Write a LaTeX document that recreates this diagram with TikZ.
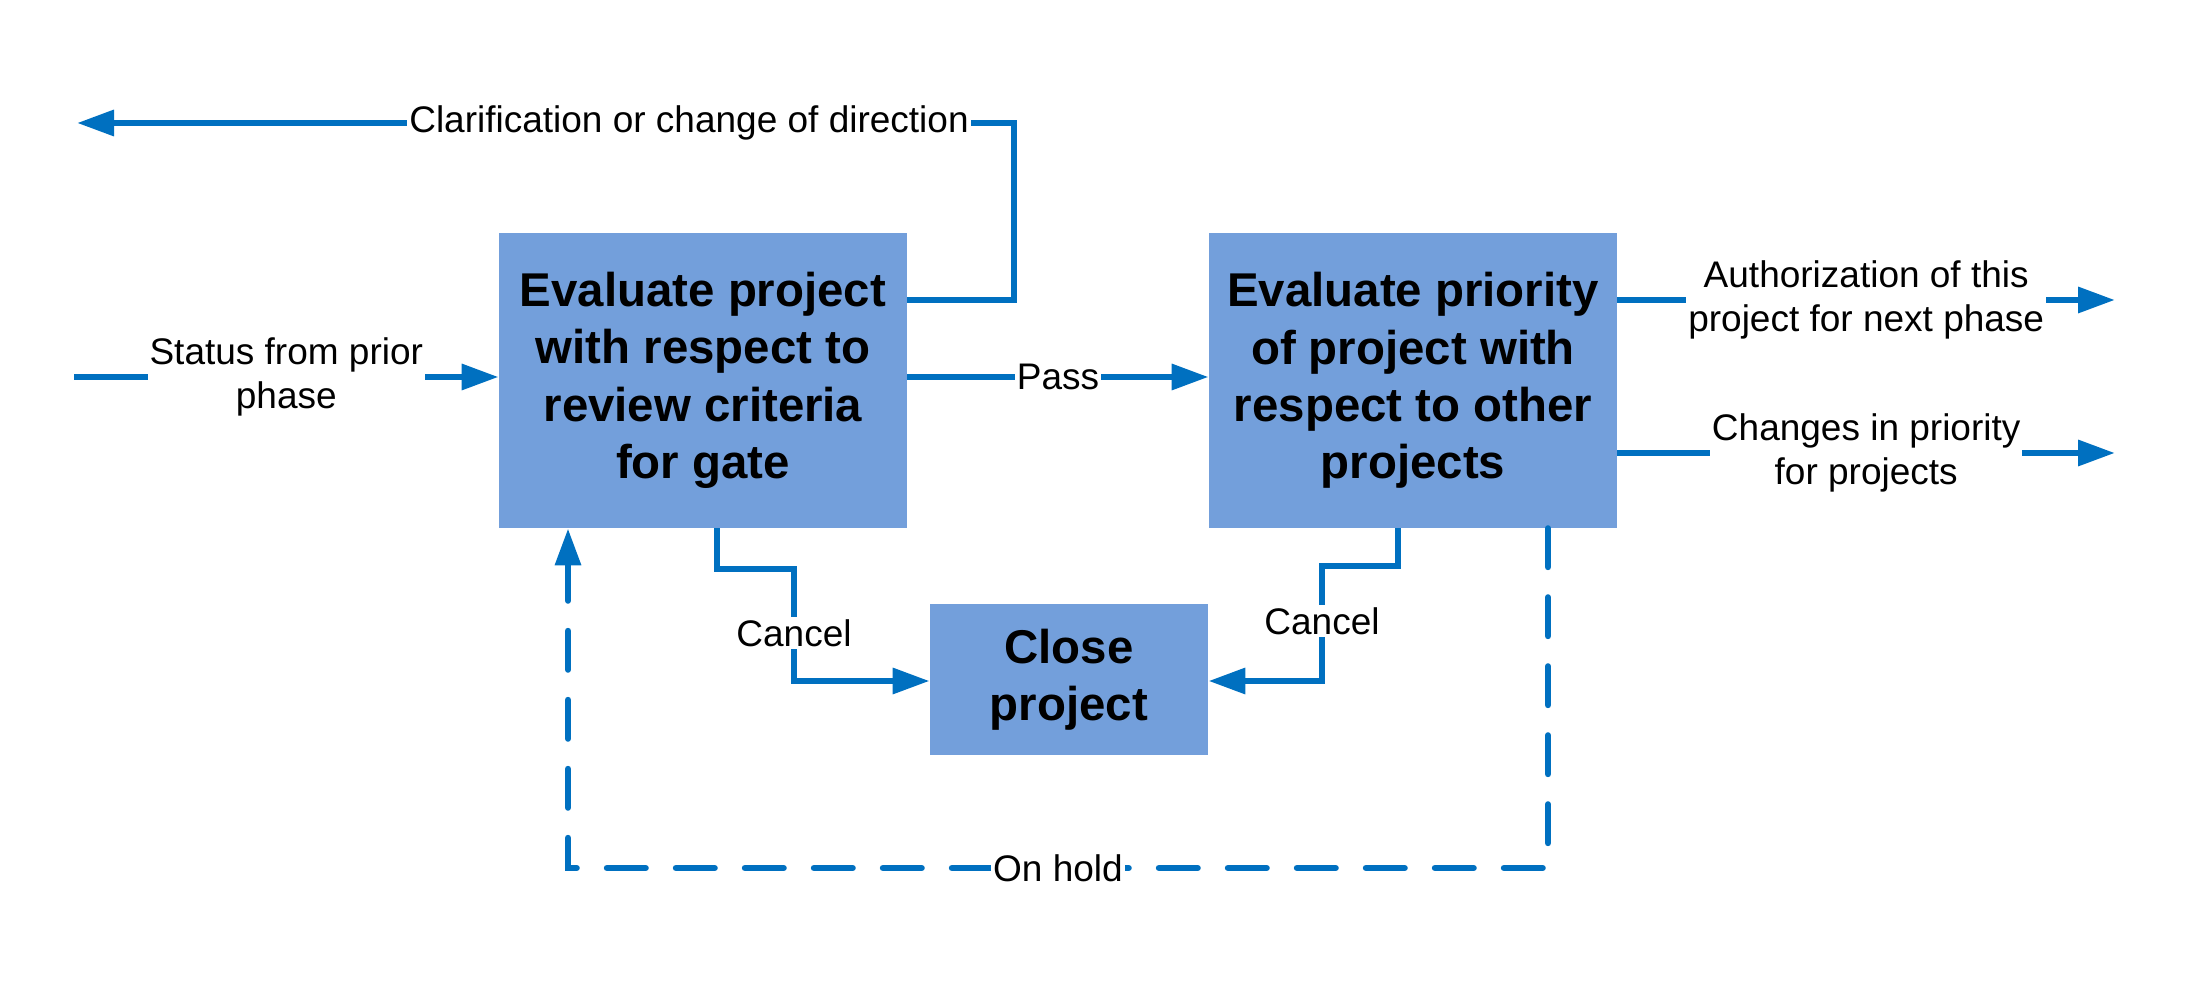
\documentclass[tikz,border=0pt]{standalone}
\usepackage{fontspec}
\setmainfont{Liberation Sans}
\usetikzlibrary{arrows.meta}
\definecolor{lineblue}{RGB}{0,112,192}
\definecolor{boxblue}{RGB}{115,159,219}
\begin{document}
\begin{tikzpicture}[x=0.5pt,y=-0.5pt,
  box/.style={fill=boxblue, draw=none, minimum width=204pt, minimum height=147.5pt, align=center, font=\fontsize{23.7}{28.7}\selectfont\bfseries, inner sep=0pt},
  conn/.style={draw=lineblue, line width=3.2pt},
  arr/.style={conn, -{Triangle[length=18.5pt,width=12.5pt]}},
  holdline/.style={arr, line cap=round, dash pattern=on 19.3pt off 15.2pt},
  lab/.style={fill=white, inner sep=1pt, align=center, font=\fontsize{18.5}{22.4}\selectfont, text=black}]
\useasboundingbox (0,0) rectangle (2192,983);
\node[box] (A) at (703,380.5) {Evaluate project\\with respect to\\review criteria\\for gate};
\node[box] (B) at (1413,380.5) {Evaluate priority\\of project with\\respect to other\\projects};
\node[box, minimum width=139pt, minimum height=75.5pt] (C) at (1069,679.5) {Close\\project};

\coordinate (statusStart) at (74,377);
\draw[arr] (statusStart) -- (statusStart -| A.west) node[lab,midway] {Status from prior\\phase};

\coordinate (clarCorner) at (1014,123);
\coordinate (clarEnd) at (77,123);
\draw[arr] (A.east |- 0,300) -| (clarCorner) -- (clarEnd);
\node[lab] (clarLab) at (689,123) {Clarification or change of direction};

\draw[arr] (A.east |- 0,377) -- (B.west |- 0,377) node[lab,midway] {Pass};

\coordinate (authEnd) at (2115,300);
\draw[arr] (B.east |- authEnd) -- (authEnd) node[lab,midway] {Authorization of this\\project for next phase};
\coordinate (chgEnd) at (2115,453);
\draw[arr] (B.east |- chgEnd) -- (chgEnd) node[lab,midway] {Changes in priority\\for projects};

\draw[arr] (A.south -| 717,0) |- (794,569) |- (C.west |- 0,681);
\node[lab] (cancelL) at (794,633) {Cancel};
\draw[arr] (B.south -| 1398,0) |- (1322,566) |- (C.east |- 0,681);
\node[lab] (cancelR) at (1322,621) {Cancel};

\draw[holdline] (B.south -| 1548,0) |- (568,868) -- (A.south -| 568,0);
\node[lab] (hold) at (1058,868) {On hold};
\end{tikzpicture}
\end{document}
